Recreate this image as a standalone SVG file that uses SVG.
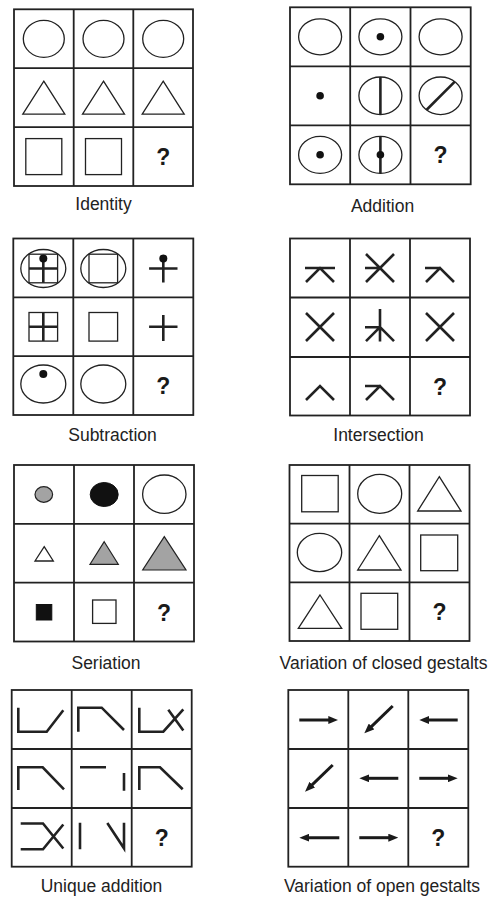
<svg xmlns="http://www.w3.org/2000/svg" width="493" height="901" viewBox="0 0 493 901">
<style>
.g{fill:none;stroke:#222;stroke-width:1.8}
.s{fill:#fff;stroke:#222;stroke-width:1.3}
.n{fill:none;stroke:#222;stroke-width:2.6;stroke-linecap:butt;stroke-linejoin:miter}
.a{fill:none;stroke:#1a1a1a;stroke-width:3;marker-end:url(#ah)}
.d{fill:#111;stroke:none}
.gr{fill:#a3a3a3;stroke:#222;stroke-width:1.2}
.k{fill:#111;stroke:#111;stroke-width:1}
.q{font-family:"Liberation Sans",Arial,sans-serif;font-weight:bold;font-size:23px;text-anchor:middle;fill:#1a1a1a}
.l{font-family:"Liberation Sans",Arial,sans-serif;font-size:17.5px;text-anchor:middle;fill:#222}
</style>
<defs>
<marker id="ah" markerUnits="userSpaceOnUse" viewBox="0 0 10 8" markerWidth="10" markerHeight="8" refX="2" refY="4" orient="auto"><path d="M0,0 L10,4 L0,8 z" fill="#1a1a1a"/></marker>
</defs>
<rect width="493" height="901" fill="#fff"/>

<g id="identity">
<rect class="g" x="14" y="9.3" width="179" height="176.7"/>
<path class="g" d="M73.7,9.3V186M133.3,9.3V186M14,68.2H193M14,127.1H193"/>
<ellipse class="s" cx="43.8" cy="38.8" rx="20.5" ry="18.5"/>
<ellipse class="s" cx="103.5" cy="38.8" rx="20.5" ry="18.5"/>
<ellipse class="s" cx="163.2" cy="38.8" rx="20.5" ry="18.5"/>
<path class="s" d="M43.8,81.2L64.8,114.2H22.8Z"/>
<path class="s" d="M103.5,81.2L124.5,114.2H82.5Z"/>
<path class="s" d="M163.2,81.2L184.2,114.2H142.2Z"/>
<rect class="s" x="25.8" y="138.6" width="36" height="36"/>
<rect class="s" x="85.5" y="138.6" width="36" height="36"/>
<text class="q" x="163.2" y="165">?</text>
<text class="l" x="103.5" y="210">Identity</text>
</g>

<g id="addition">
<rect class="g" x="290" y="7.3" width="180.7" height="177"/>
<path class="g" d="M350.2,7.3V184.3M410.5,7.3V184.3M290,66.3H470.7M290,125.3H470.7"/>
<ellipse class="s" cx="320.1" cy="36.8" rx="21.5" ry="18"/>
<ellipse class="s" cx="380.4" cy="36.8" rx="21.5" ry="18"/>
<circle class="d" cx="380.4" cy="36.8" r="3.8"/>
<ellipse class="s" cx="440.6" cy="36.8" rx="21.5" ry="18"/>
<circle class="d" cx="320.1" cy="95.8" r="3.8"/>
<ellipse class="s" cx="380.4" cy="95.8" rx="21.5" ry="18.8"/>
<path class="n" d="M380.4,77V114.6"/>
<ellipse class="s" cx="440.6" cy="95.8" rx="21.5" ry="18.8"/>
<path class="n" d="M426.4,110L454.8,81.6"/>
<ellipse class="s" cx="320.1" cy="154.8" rx="21.5" ry="18.5"/>
<circle class="d" cx="320.1" cy="154.8" r="3.8"/>
<ellipse class="s" cx="380.4" cy="154.8" rx="21.5" ry="18.5"/>
<path class="n" d="M380.4,136.3V173.3"/>
<circle class="d" cx="380.4" cy="154.8" r="3.8"/>
<text class="q" x="440.6" y="163">?</text>
<text class="l" x="382.5" y="212">Addition</text>
</g>

<g id="subtraction">
<rect class="g" x="13.3" y="238.5" width="180" height="176.5"/>
<path class="g" d="M73.3,238.5V415M133.3,238.5V415M13.3,297.3H193.3M13.3,356.2H193.3"/>
<ellipse class="s" cx="43.3" cy="268.5" rx="22.5" ry="19"/>
<rect class="s" x="29" y="254.2" width="28.6" height="28.6"/>
<path class="n" d="M29,268.5H57.6M43.3,258.5V282.8"/>
<circle class="d" cx="43.3" cy="258.5" r="4"/>
<ellipse class="s" cx="103.3" cy="268.5" rx="22.5" ry="19"/>
<rect class="s" x="89" y="254.2" width="28.6" height="28.6"/>
<path class="n" d="M149.1,268.5H177.5M163.3,258.5V282.5"/>
<circle class="d" cx="163.3" cy="258.5" r="4"/>
<rect class="s" x="29" y="312.5" width="28.6" height="28.6"/>
<path class="n" d="M29,326.8H57.6M43.3,312.5V341.1"/>
<rect class="s" x="89" y="312.5" width="28.6" height="28.6"/>
<path class="n" d="M149.1,326.8H177.5M163.3,315V341"/>
<ellipse class="s" cx="43.3" cy="384" rx="22.5" ry="19"/>
<circle class="d" cx="43.3" cy="374" r="4"/>
<ellipse class="s" cx="103.3" cy="384" rx="22.5" ry="19"/>
<text class="q" x="163.3" y="394">?</text>
<text class="l" x="112.5" y="441">Subtraction</text>
</g>

<g id="intersection">
<rect class="g" x="290" y="238.5" width="180" height="177"/>
<path class="g" d="M350,238.5V415.5M410,238.5V415.5M290,297.5H470M290,357H470"/>
<path class="n" d="M305,268H335M306,282L320,268L334,282"/>
<path class="n" d="M365,268H382M366,254L394,282M394,254L366,282"/>
<path class="n" d="M425,268H440M426,282L440,268L454,282"/>
<path class="n" d="M306,313L334,341M334,313L306,341"/>
<path class="n" d="M380,309V341.5M365,327.2H380M366,341.2L380,327.2L394,341.2"/>
<path class="n" d="M426,313L454,341M454,313L426,341"/>
<path class="n" d="M306,400L320,386L334,400"/>
<path class="n" d="M365,386H380M366,400L380,386L394,400"/>
<text class="q" x="440" y="395">?</text>
<text class="l" x="378.5" y="441">Intersection</text>
</g>

<g id="seriation">
<rect class="g" x="14" y="465" width="180" height="176.5"/>
<path class="g" d="M74,465V641.5M134,465V641.5M14,523.8H194M14,582.7H194"/>
<ellipse class="gr" cx="43.8" cy="494.5" rx="8.8" ry="7.8"/>
<ellipse class="k" cx="104.2" cy="494.5" rx="14" ry="12"/>
<ellipse class="s" cx="164.3" cy="494.2" rx="21.7" ry="19.2"/>
<path class="s" d="M44.2,546.7L53.3,561H35Z"/>
<path class="gr" d="M104.2,541.7L118.3,564.3H90Z"/>
<path class="gr" d="M164.3,536.7L186,570H142.7Z"/>
<rect class="k" x="36.3" y="604.5" width="15.5" height="15.5"/>
<rect class="s" x="92.6" y="600" width="23.4" height="23.4"/>
<text class="q" x="164" y="620.5">?</text>
<text class="l" x="106" y="669">Seriation</text>
</g>

<g id="closed-gestalts">
<rect class="g" x="289.5" y="465" width="180" height="176"/>
<path class="g" d="M349.5,465V641M409.5,465V641M289.5,523.7H469.5M289.5,582.3H469.5"/>
<rect class="s" x="301.7" y="475.5" width="36.5" height="36.3"/>
<ellipse class="s" cx="379.7" cy="493.8" rx="22" ry="19.5"/>
<path class="s" d="M439.3,476.7L461,511H417.7Z"/>
<ellipse class="s" cx="319.5" cy="552.5" rx="22.2" ry="19.2"/>
<path class="s" d="M379.3,535.7L401,570H357.7Z"/>
<rect class="s" x="420.7" y="535" width="37" height="35.7"/>
<path class="s" d="M320,595L341.7,628.3H298.3Z"/>
<rect class="s" x="361" y="593.3" width="36.7" height="36"/>
<text class="q" x="439.5" y="620">?</text>
<text class="l" x="383.5" y="669">Variation of closed gestalts</text>
</g>

<g id="unique-addition">
<rect class="g" x="11.7" y="690" width="180" height="176.7"/>
<path class="g" d="M71.7,690V866.7M131.7,690V866.7M11.7,749H191.7M11.7,808H191.7"/>
<path class="n" d="M18.3,707.7V731.7H46.7L63.3,710.3"/>
<path class="n" d="M78.3,731.7V707.7H101.7L124,730"/>
<path class="n" d="M139.3,707.7V731.7H163.3L183.3,709.3M168.3,709.7L183.3,730.5"/>
<path class="n" d="M18.3,790V767.3H42.7L64,789.3"/>
<path class="n" d="M80,767.3H106M124,773V790.7"/>
<path class="n" d="M139.3,790V767.3H160L182.7,789.3"/>
<path class="n" d="M20.7,823.5H43L63.3,848.5M20.7,849.3H43L63.3,824.5"/>
<path class="n" d="M80,822.7V849.3M107.3,823L124,848.3V822.7"/>
<text class="q" x="161.7" y="846">?</text>
<text class="l" x="101.5" y="892">Unique addition</text>
</g>

<g id="open-gestalts">
<rect class="g" x="288.3" y="690" width="180" height="176.7"/>
<path class="g" d="M348.3,690V866.7M408.3,690V866.7M288.3,749H468.3M288.3,808H468.3"/>
<path class="a" d="M299.3,720H330.3"/>
<path class="a" d="M392.7,706L370.1,727.8"/>
<path class="a" d="M457.7,720H427.3"/>
<path class="a" d="M332.7,765L310.8,786.1"/>
<path class="a" d="M398.3,778.3H367.3"/>
<path class="a" d="M419.3,778.3H449.7"/>
<path class="a" d="M339.3,837.7H307.3"/>
<path class="a" d="M359.3,837.7H390.3"/>
<text class="q" x="438.3" y="846">?</text>
<text class="l" x="382" y="892">Variation of open gestalts</text>
</g>
</svg>
